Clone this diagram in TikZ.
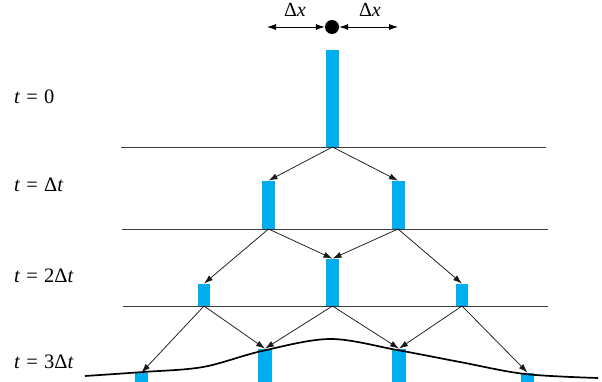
\documentclass[tikz,border=0pt]{standalone}
\usepackage{fontspec}
\setmainfont{Liberation Serif}
\usetikzlibrary{arrows.meta}
\definecolor{barblue}{RGB}{0,174,239}
\definecolor{lvlgray}{RGB}{60,60,60}
\newcommand{\eqs}{\hspace{0.3em}=\hspace{0.3em}}
\begin{document}
\begin{tikzpicture}[x=1pt,y=-1pt,
  bar/.style={fill=barblue,draw=none,inner sep=0pt,minimum width=13pt,anchor=south},
  lvl/.style={draw=lvlgray,line width=0.8pt},
  spread/.style={draw=black!90,line width=0.75pt,-{Latex[length=9pt,width=6pt]}},
  lab/.style={anchor=base west,inner sep=0pt,font=\fontsize{20.5}{24}\selectfont},
  dlab/.style={anchor=base,inner sep=0pt,font=\fontsize{20}{24}\selectfont}]
\useasboundingbox (0,0) rectangle (602,382);
% level lines
\draw[lvl] (121,147) -- (546,147);
\draw[lvl] (122,229) -- (548,229);
\draw[lvl] (123,306) -- (548,306);
% labels
\node[lab] (l0) at (14,104) {\textit{t}\eqs 0};
\node[lab] (l1) at (14,192) {\textit{t}\eqs Δ\textit{t}};
\node[lab] (l2) at (14,282) {\textit{t}\eqs 2Δ\textit{t}};
\node[lab] (l3) at (14,368) {\textit{t}\eqs 3Δ\textit{t}};
% top dot and dx arrows
\node[circle,fill=black,inner sep=0pt,minimum size=14pt] (dot) at (332,27) {};
\coordinate (al) at (267,27);
\coordinate (ar) at (398,27);
\draw[line width=0.75pt,{Latex[length=9pt,width=6pt]}-{Latex[length=9pt,width=6pt]}] (al) -- (dot.west);
\draw[line width=0.75pt,{Latex[length=9pt,width=6pt]}-{Latex[length=9pt,width=6pt]}] (dot.east) -- (ar);
\node[dlab] (dxl) at (295,17) {Δ\textit{x}};
\node[dlab] (dxr) at (370,17) {Δ\textit{x}};
% bars
\node[bar,minimum height=97pt] (b0) at (332.5,147) {};
\node[bar,minimum height=48pt] (b1a) at (268.5,229) {};
\node[bar,minimum height=48pt] (b1b) at (398,229) {};
\node[bar,minimum height=22pt,minimum width=12pt] (b2a) at (204,306) {};
\node[bar,minimum height=47pt] (b2b) at (332.5,306) {};
\node[bar,minimum height=22pt,minimum width=12pt] (b2c) at (462,306) {};
\node[bar,minimum height=12pt] (b3a) at (141.5,385) {};
\node[bar,minimum height=36pt,minimum width=14pt] (b3b) at (265,385) {};
\node[bar,minimum height=36pt,minimum width=14pt] (b3c) at (399,385) {};
\node[bar,minimum height=12pt] (b3d) at (527.5,385) {};
% spreading arrows
\draw[spread] (b0.south) -- (b1a.north);
\draw[spread] (b0.south) -- (b1b.north);
\draw[spread] (b1a.south) -- (b2a.north);
\draw[spread] (b1a.south) -- (b2b.north);
\draw[spread] (b1b.south) -- (b2b.north);
\draw[spread] (b1b.south) -- (b2c.north);
\draw[spread] (b2a.south) -- (b3a.north);
\draw[spread] (b2a.south) -- (b3b.north);
\draw[spread] (b2b.south) -- (b3b.north);
\draw[spread] (b2b.south) -- (b3c.north);
\draw[spread] (b2c.south) -- (b3c.north);
\draw[spread] (b2c.south) -- (b3d.north);
% resulting curve
\draw[line width=1.7pt,black] plot[smooth,tension=0.55] coordinates
  {(85,376) (143,372) (203,367) (262,351) (330,339) (397,350) (460,362) (525,374) (598,378)};
\end{tikzpicture}
\end{document}
